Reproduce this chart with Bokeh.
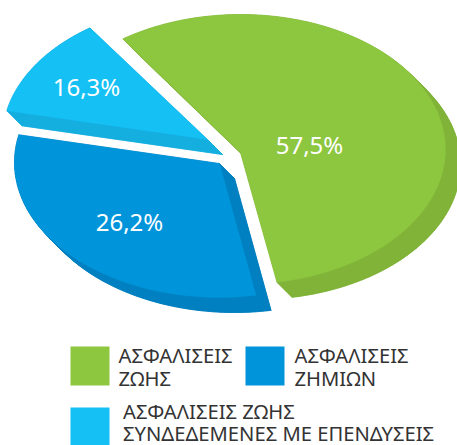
import numpy as np
from bokeh.plotting import figure
from bokeh.models import Range1d
from bokeh.core.properties import value
from bokeh.embed import file_html
from bokeh.resources import INLINE

# ---- data ----
labels = ["57,5%", "26,2%", "16,3%"]
shares = [57.5, 26.2, 16.3]
legend_1 = ["ΑΣΦΑΛΙΣΕΙΣ", "ΖΩΗΣ"]
legend_2 = ["ΑΣΦΑΛΙΣΕΙΣ", "ΖΗΜΙΩΝ"]
legend_3 = ["ΑΣΦΑΛΙΣΕΙΣ ΖΩΗΣ", "ΣΥΝΔΕΔΕΜΕΝΕΣ ΜΕ ΕΠΕΝΔΥΣΕΙΣ"]

# ---- styles ----
top_colors = ["#8DC63F", "#0095DA", "#15C0F5"]
wall_colors = ["#80B338", "#0080C0", "#14AEDF"]
FONT = "Noto Sans"

# ---- projection of the tilted pie (page pixels) ----
RX, RY = 205.0, 135.0
DEPTH = 15.0
START, K, PHI = 131.456, 0.656, 112.5      # start angle, perspective strength and direction
apexes = [(240, 152), (219, 163), (207, 139)]
rim_centers = [(240, 149), (219, 162), (207, 138)]
label_pos = [(309, 144), (129, 221), (86, 86)]


def warp(theta):
    d = np.radians(theta - PHI) / 2
    return PHI + np.degrees(2 * np.arctan2(K * np.sin(d), np.cos(d)))


p = figure(width=457, height=445, output_backend="svg", toolbar_location=None,
           x_range=Range1d(0, 457), y_range=Range1d(445, 0), min_border=0)
p.axis.visible = False
p.grid.visible = False
p.outline_line_color = None
p.background_fill_color = "white"
p.border_fill_color = "white"

edges = START - np.cumsum([0.0] + [s * 3.6 for s in shares])
slices = []
for i in range(len(shares)):
    t = np.radians(warp(np.linspace(edges[i], edges[i + 1], 160)))
    ax, ay = apexes[i]
    cx, cy = rim_centers[i]
    xs = np.r_[ax, cx + RX * np.cos(t)]
    ys = np.r_[ay, cy - RY * np.sin(t)]
    slices.append((xs, ys))

# side walls
for (xs, ys), c in zip(slices, wall_colors):
    x1, y1 = np.roll(xs, -1), np.roll(ys, -1)
    qx = [[a, b, b + DEPTH, a + DEPTH] for a, b in zip(xs, x1)]
    qy = [[a, b, b + DEPTH, a + DEPTH] for a, b in zip(ys, y1)]
    p.patches(qx, qy, fill_color=c, line_color=c, line_width=0.6)
    p.patch(xs + DEPTH, ys + DEPTH, fill_color=c, line_color=c, line_width=0.6)

# top faces
for (xs, ys), c in zip(slices, top_colors):
    p.patch(xs, ys, fill_color=c, line_color=c, line_width=0.3)

# percentage labels
p.text([q[0] for q in label_pos], [q[1] for q in label_pos], text=labels,
       text_color="white", text_font=value(FONT), text_font_size="24px",
       text_align="center", text_baseline="middle")

# legend
size = 39
sq_x = [70, 245, 70]
sq_y = [346, 346, 407]
p.quad(left=sq_x, right=[v + size for v in sq_x], top=sq_y, bottom=[v + size for v in sq_y],
       fill_color=top_colors, line_color=None)

leg_lines = legend_1 + legend_2 + legend_3
leg_x = [118, 118, 294, 294, 122.5, 122.5]
leg_y = [354, 377, 354, 377, 410, 432]
p.text(leg_x, leg_y, text=leg_lines, text_color="#333333", text_font=value(FONT),
       text_font_size="20.2px", text_align="left", text_baseline="middle")

open("out.html", "w").write(file_html(p, INLINE))
